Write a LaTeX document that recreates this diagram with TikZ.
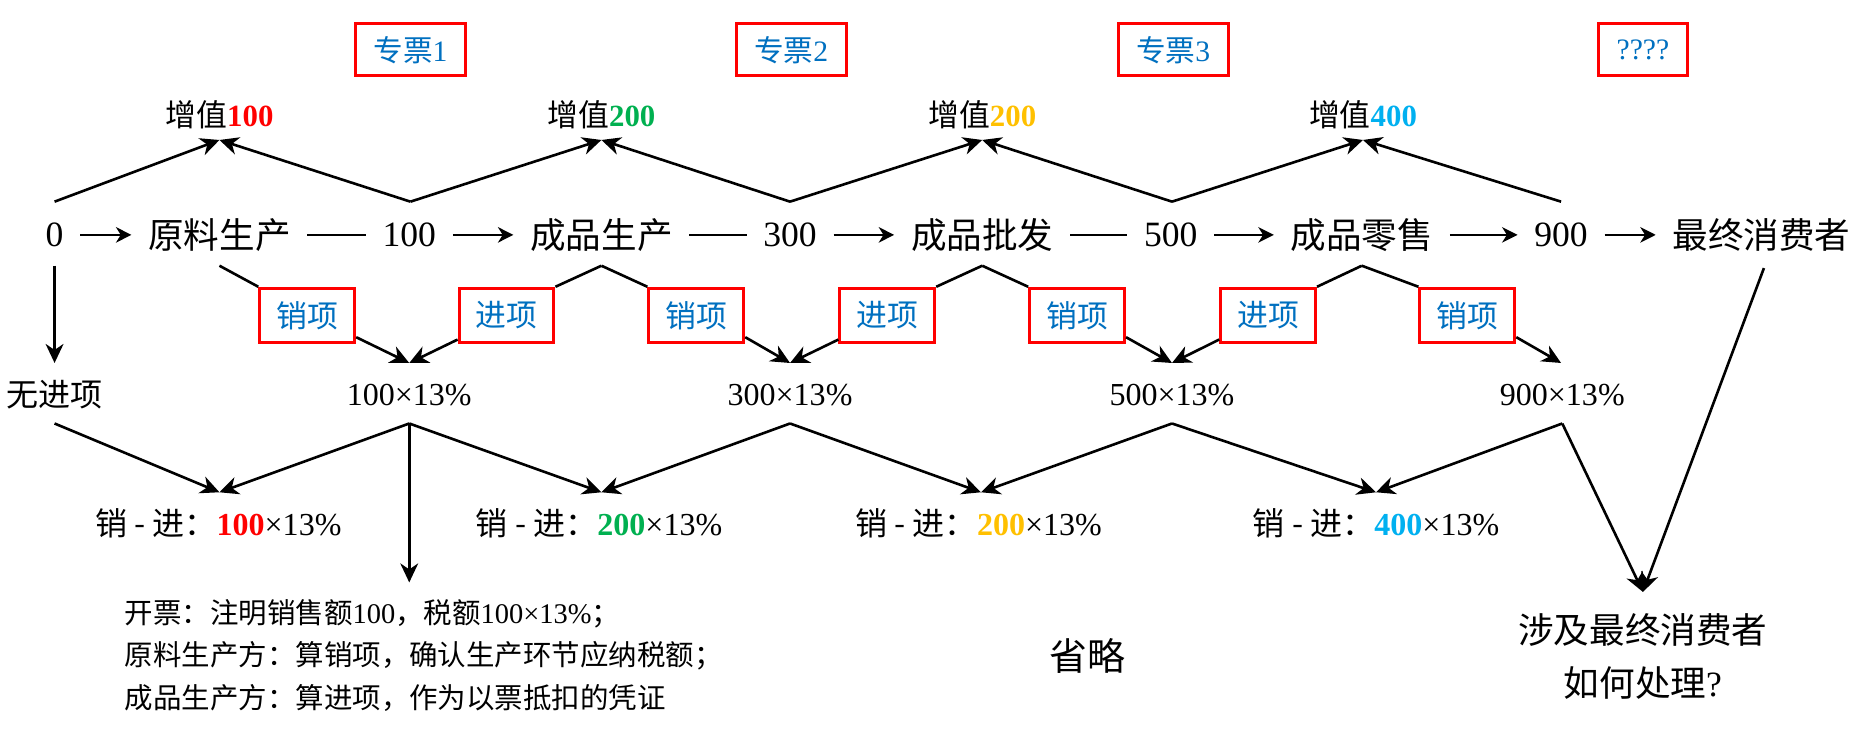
\documentclass[tikz,border=0pt]{standalone}
\usepackage{fontspec}
\setmainfont{Liberation Serif}
\newfontfamily\cjkf{Noto Sans CJK SC}
\usetikzlibrary{arrows.meta,calc}
\newcommand{\zh}[1]{{\cjkf #1}}
\newcommand{\setfs}[1]{\fontsize{#1}{#1}\selectfont}
\definecolor{boxred}{RGB}{255,0,0}
\definecolor{txtblue}{RGB}{0,112,192}
\definecolor{vred}{RGB}{255,0,0}
\definecolor{vgreen}{RGB}{0,176,80}
\definecolor{vyellow}{RGB}{255,192,0}
\definecolor{vcyan}{RGB}{0,176,240}
\begin{document}
\begin{tikzpicture}[x=1pt,y=-1pt,
  every node/.style={inner sep=0pt},
  mainf/.style={font=\setfs{30}},
  valf/.style={font=\setfs{26}},
  pctf/.style={font=\setfs{27}},
  topbox/.style={draw=boxred, line width=2.5pt, fill=white, minimum width=93pt, minimum height=44pt, text=txtblue, font=\setfs{25}},
  qbox/.style={topbox, minimum width=75pt},
  xbox/.style={draw=boxred, line width=2.5pt, fill=white, minimum width=80pt, minimum height=46pt, text=txtblue, font=\setfs{26}\cjkf},
  ln/.style={line width=2.2pt},
  arr/.style={line width=2.2pt, -{Stealth[length=16pt,width=15pt,inset=5pt]}},
  rowarr/.style={line width=2pt, -{Stealth[length=13pt,width=13pt,inset=4pt]}, shorten <=14pt, shorten >=14pt},
  rowln/.style={line width=2pt, shorten <=14pt, shorten >=14pt}]
\useasboundingbox (0,0) rectangle (1568,626);

% top boxes
\node[topbox] (z1) at (346,42) {\zh{专票}1};
\node[topbox] (z2) at (667,42) {\zh{专票}2};
\node[topbox] (z3) at (989,42) {\zh{专票}3};
\node[qbox] (z4) at (1385,42) {????};

% value-added labels
\node[valf] (v1) at (185,97) {\zh{增值}\textbf{\color{vred}100}};
\node[valf] (v2) at (507,97) {\zh{增值}\textbf{\color{vgreen}200}};
\node[valf] (v3) at (828,97) {\zh{增值}\textbf{\color{vyellow}200}};
\node[valf] (v4) at (1149,97) {\zh{增值}\textbf{\color{vcyan}400}};

% main row
\node[mainf] (n0) at (46,198) {0};
\node[mainf] (s1) at (185,198) {\zh{原料生产}};
\node[mainf] (n100) at (345,198) {100};
\node[mainf] (s2) at (507,198) {\zh{成品生产}};
\node[mainf] (n300) at (666,198) {300};
\node[mainf] (s3) at (828,198) {\zh{成品批发}};
\node[mainf] (n500) at (987,198) {500};
\node[mainf] (s4) at (1148,198) {\zh{成品零售}};
\node[mainf] (n900) at (1316,198) {900};
\node[mainf] (s5) at (1485,198) {\zh{最终消费者}};

\draw[rowarr] (n0) -- (s1);
\draw[rowln] (s1) -- (n100);
\draw[rowarr] (n100) -- (s2);
\draw[rowln] (s2) -- (n300);
\draw[rowarr] (n300) -- (s3);
\draw[rowln] (s3) -- (n500);
\draw[rowarr] (n500) -- (s4);
\draw[rowarr] (s4) -- (n900);
\draw[rowarr] (n900) -- (s5);

% junction points
\coordinate (n0u) at (46,170);
\coordinate (n100u) at (346,170);
\coordinate (n300u) at (666,170);
\coordinate (n500u) at (988,170);
\coordinate (n900u) at (1316,170);
\coordinate (v1in) at (185,118);
\coordinate (v2in) at (507,118);
\coordinate (v3in) at (828,118);
\coordinate (v4in) at (1149,118);

\draw[arr] (n0u) -- (v1in);
\draw[arr] (n100u) -- (v1in);
\draw[arr] (n100u) -- (v2in);
\draw[arr] (n300u) -- (v2in);
\draw[arr] (n300u) -- (v3in);
\draw[arr] (n500u) -- (v3in);
\draw[arr] (n500u) -- (v4in);
\draw[arr] (n900u) -- (v4in);

% sales / input boxes
\node[xbox] (xs1) at (259,266) {销项};
\node[xbox] (xj1) at (427,266) {进项};
\node[xbox] (xs2) at (587,266) {销项};
\node[xbox] (xj2) at (748,266) {进项};
\node[xbox] (xs3) at (908,266) {销项};
\node[xbox] (xj3) at (1069,266) {进项};
\node[xbox] (xs4) at (1237,266) {销项};

\coordinate (s1d) at (185,224);
\coordinate (s2d) at (507,224);
\coordinate (s3d) at (828,224);
\coordinate (s4d) at (1148,224);
\coordinate (s5d) at (1487,226);
\coordinate (n0d) at (46,224);

% tax nodes
\node[pctf] (w0) at (46,333) {\zh{无进项}};
\node[pctf] (p1) at (345,333) {100×13\%};
\node[pctf] (p2) at (666,333) {300×13\%};
\node[pctf] (p3) at (988,333) {500×13\%};
\node[pctf] (p4) at (1317,333) {900×13\%};

\coordinate (w0in) at (46,306);
\coordinate (p1in) at (345,306);
\coordinate (p2in) at (666,306);
\coordinate (p3in) at (988,306);
\coordinate (p4in) at (1316,306);

\draw[arr] (n0d) -- (w0in);
\draw[ln] (s1d) -- (xs1.north west);
\draw[arr] ([yshift=6pt]xs1.south east) -- (p1in);
\draw[ln] (s2d) -- (xj1.north east);
\draw[arr] ([yshift=4pt]xj1.south west) -- (p1in);
\draw[ln] (s2d) -- (xs2.north west);
\draw[arr] ([yshift=6pt]xs2.south east) -- (p2in);
\draw[ln] (s3d) -- (xj2.north east);
\draw[arr] ([yshift=4pt]xj2.south west) -- (p2in);
\draw[ln] (s3d) -- (xs3.north west);
\draw[arr] ([yshift=6pt]xs3.south east) -- (p3in);
\draw[ln] (s4d) -- (xj3.north east);
\draw[arr] ([yshift=4pt]xj3.south west) -- (p3in);
\draw[ln] (s4d) -- (xs4.north west);
\draw[arr] ([yshift=6pt]xs4.south east) -- (p4in);

% difference labels
\node[pctf] (m1) at (184,441) {\zh{销 - 进：}\textbf{\color{vred}100}×13\%};
\node[pctf] (m2) at (505,441) {\zh{销 - 进：}\textbf{\color{vgreen}200}×13\%};
\node[pctf] (m3) at (825,441) {\zh{销 - 进：}\textbf{\color{vyellow}200}×13\%};
\node[pctf] (m4) at (1160,441) {\zh{销 - 进：}\textbf{\color{vcyan}400}×13\%};

\coordinate (w0d) at (46,357);
\coordinate (p1d) at (345,357);
\coordinate (p2d) at (666,357);
\coordinate (p3d) at (988,357);
\coordinate (p4d) at (1317,357);
\coordinate (m1in) at (185,415);
\coordinate (m2in) at (507,415);
\coordinate (m3in) at (827,415);
\coordinate (m4in) at (1160,415);

\draw[arr] (w0d) -- (m1in);
\draw[arr] (p1d) -- (m1in);
\draw[arr] (p1d) -- (m2in);
\draw[arr] (p2d) -- (m2in);
\draw[arr] (p2d) -- (m3in);
\draw[arr] (p3d) -- (m3in);
\draw[arr] (p3d) -- (m4in);
\draw[arr] (p4d) -- (m4in);

% explanation text
\node[font=\setfs{24}, anchor=base west] (b1) at (105,526) {\zh{开票：注明销售额}100\zh{，税额}100×13\%\zh{；}};
\node[font=\setfs{24}, anchor=base west] (b2) at (105,561) {\zh{原料生产方：算销项，确认生产环节应纳税额；}};
\node[font=\setfs{24}, anchor=base west] (b3) at (105,597) {\zh{成品生产方：算进项，作为以票抵扣的凭证}};
\coordinate (b1in) at (345,491);
\draw[arr] (p1d) -- (b1in);

\node[font=\setfs{32}] (om) at (917,553) {\zh{省略}};

% final consumer
\node[font=\setfs{30}] (f1) at (1385,531) {\zh{涉及最终消费者}};
\node[font=\setfs{30}] (f2) at (1385,576) {\zh{如何处理}?};
\coordinate (f1in) at (1385,499);
\draw[arr] (p4d) -- (f1in);
\draw[arr] (s5d) -- (f1in);
\end{tikzpicture}
\end{document}
